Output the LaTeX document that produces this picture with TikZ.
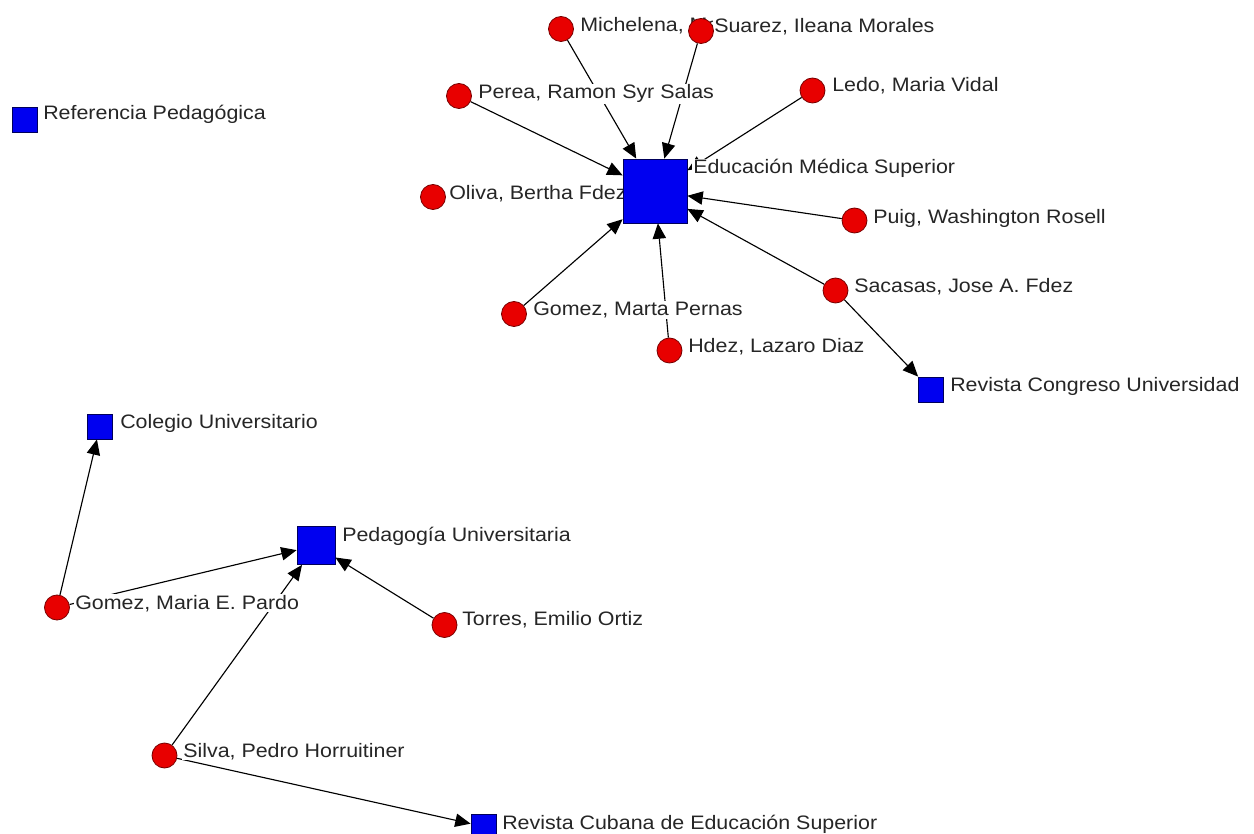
\documentclass[tikz,border=0pt]{standalone}
\usepackage{fontspec}
\setmainfont[FakeStretch=1.1]{Liberation Sans}
\usetikzlibrary{arrows.meta}
\pgfdeclarelayer{bg}
\pgfdeclarelayer{edges}
\pgfdeclarelayer{labels}
\pgfsetlayers{bg,edges,labels,main}
\definecolor{nodered}{RGB}{232,0,0}
\definecolor{nodereddark}{RGB}{120,0,0}
\definecolor{nodeblue}{RGB}{0,0,240}
\definecolor{nodebluedark}{RGB}{0,0,90}
\tikzset{
  person/.style={circle, inner sep=0pt, minimum size=18.75pt, fill=nodered, draw=nodereddark, line width=0.6pt},
  journal/.style={rectangle, inner sep=0pt, minimum size=18.75pt, fill=nodeblue, draw=nodebluedark, line width=0.6pt},
  lab/.style={anchor=base west, fill=white, inner xsep=0.75pt, inner ysep=0.75pt, text=black!85,
    font=\fontsize{14.6pt}{17pt}\selectfont},
  link/.style={draw=black, line width=0.85pt, -{Triangle[length=11.5pt,width=10pt]}},
}
\begin{document}
\begin{tikzpicture}[x=0.75pt,y=-0.75pt]
\begin{pgfonlayer}{bg}
\fill[white] (0,0) rectangle (1254,834);
\end{pgfonlayer}
\useasboundingbox (0,0) rectangle (1254,834);
% persons
\node[person] (mich) at (561,29) {};
\node[person] (suar) at (701,31) {};
\node[person] (pere) at (459,96) {};
\node[person] (ledo) at (812.5,90.5) {};
\node[person] (oliv) at (433,197) {};
\node[person] (puig) at (854.5,220.5) {};
\node[person] (saca) at (835.5,290.5) {};
\node[person] (gmar) at (514,314) {};
\node[person] (hdez) at (669.5,350.5) {};
\node[person] (gmap) at (57,607.5) {};
\node[person] (torr) at (444.5,625) {};
\node[person] (silv) at (164.5,755.5) {};
% journals
\node[journal] (refp) at (24.5,119.5) {};
\node[journal, minimum size=48pt] (ems) at (655,191) {};
\node[journal] (rcon) at (930.5,389.5) {};
\node[journal] (cole) at (100,426.5) {};
\node[journal, minimum size=28.5pt] (peda) at (316,545.5) {};
\node[journal] (rcub) at (483.5,826.5) {};
% edges
\begin{pgfonlayer}{edges}
\draw[link] (mich) -- (ems);
\draw[link] (suar) -- (ems);
\draw[link] (pere) -- (ems);
\draw[link] (ledo) -- (ems);
\draw[link] (puig) -- (ems);
\draw[link] (saca) -- (ems);
\draw[link] (gmar) -- (ems);
\draw[link] (hdez) -- (ems);
\draw[link] (saca) -- (rcon);
\draw[link] (gmap) -- (cole);
\draw[link] (gmap) -- (peda);
\draw[link] (silv) -- (peda);
\draw[link] (torr) -- (peda);
\draw[link] (silv) -- (rcub);
\end{pgfonlayer}
% labels
\begin{pgfonlayer}{labels}
\node[lab] (lmich) at (579,32) {Michelena, Ma};
\node[lab] (lsuar) at (713,33) {Suarez, Ileana Morales};
\node[lab] (lpere) at (477,99) {Perea, Ramon Syr Salas};
\node[lab] (lledo) at (831,92) {Ledo, Maria Vidal};
\node[lab] (loliv) at (448,200) {Oliva, Bertha Fdez};
\node[lab] (lpuig) at (872,224) {Puig, Washington Rosell};
\node[lab] (lsaca) at (853,293) {Sacasas, Jose A. Fdez};
\node[lab] (lgmar) at (532,316) {Gomez, Marta Pernas};
\node[lab] (lhdez) at (687,353) {Hdez, Lazaro Diaz};
\node[lab] (lgmap) at (74,609) {Gomez, Maria E. Pardo};
\node[lab] (ltorr) at (461,625) {Torres, Emilio Ortiz};
\node[lab] (lsilv) at (182,757) {Silva, Pedro Horruitiner};
\node[lab] (lrefp) at (42,120) {Referencia Pedagógica};
\node[lab] (lems) at (692,174) {Educación Médica Superior};
\node[lab] (lrcon) at (949,392) {Revista Congreso Universidad};
\node[lab] (lcole) at (119,429) {Colegio Universitario};
\node[lab] (lpeda) at (341,541) {Pedagogía Universitaria};
\node[lab] (lrcub) at (501,829) {Revista Cubana de Educación Superior};
\end{pgfonlayer}
\end{tikzpicture}
\end{document}
